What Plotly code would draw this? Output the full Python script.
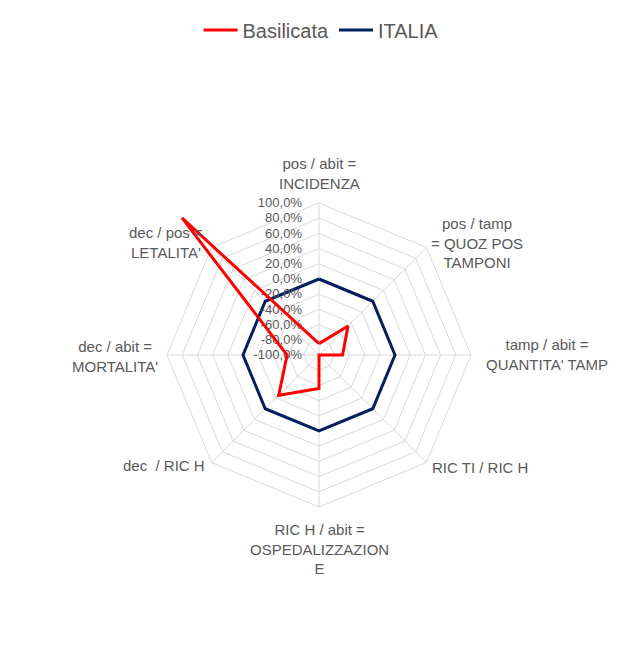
import plotly.graph_objects as go

# Indicator axes of the radar (clockwise from the top)
categories = [
    "pos / abit =<br>INCIDENZA",
    "pos / tamp<br>= QUOZ POS<br>TAMPONI",
    "tamp / abit =<br>QUANTITA' TAMP",
    "RIC TI / RIC H",
    "RIC H / abit =<br>OSPEDALIZZAZION<br>E",
    "dec  / RIC H",
    "dec / abit =<br>MORTALITA'",
    "dec / pos =<br>LETALITA'",
]

# Relative deviation from the national value, in percent
basilicata = [-85, -46, -69, -100, -56, -25, -58, 155]
italia = [0, 0, 0, 0, 0, 0, 0, 0]

# Radial tick values and their Italian-format labels
tick_vals = [-100, -80, -60, -40, -20, 0, 20, 40, 60, 80, 100]
tick_text = ["-100,0%", "-80,0%", "-60,0%", "-40,0%", "-20,0%", "0,0%",
             "20,0%", "40,0%", "60,0%", "80,0%", "100,0%"]

R_MIN, R_MAX, R_OUT = -100, 100, 160   # grid range and the wider overlay range
PX_PER_UNIT = 0.76                     # radial scale shared by both polar layers
CX, CY = 319, 355                      # common centre (pixels from top-left)
W, H = 618, 658

# Category label block centres, as offsets from the radar centre (pixels)
label_offsets = [(0, -181), (158, -112), (228, -1), (161, 112),
                 (0, 194), (-155, 110), (-204, 2), (-153, -112)]


def domain(r_max):
    rad = (r_max - R_MIN) * PX_PER_UNIT
    return dict(x=[(CX - rad) / W, (CX + rad) / W],
                y=[(H - CY - rad) / H, (H - CY + rad) / H])


def closed(seq):
    return list(seq) + [seq[0]]


fig = go.Figure()
fig.add_trace(go.Scatterpolar(
    r=closed(basilicata), theta=closed(categories), name="Basilicata",
    mode="lines", line=dict(color="#FF0000", width=3), subplot="polar2",
))
fig.add_trace(go.Scatterpolar(
    r=closed(italia), theta=closed(categories), name="ITALIA",
    mode="lines", line=dict(color="#002060", width=3), subplot="polar",
))

# Category names around the outer ring
for text, (dx, dy) in zip(categories, label_offsets):
    fig.add_annotation(
        text=text, xref="paper", yref="paper",
        x=(CX + dx) / W, y=1 - (CY + dy) / H,
        xanchor="center", yanchor="middle", align="center", showarrow=False,
        font=dict(size=15, color="#595959"),
    )

hidden_angular = dict(direction="clockwise", rotation=90, categoryorder="array",
                      categoryarray=categories, showline=False, showgrid=False,
                      showticklabels=False, ticks="")

fig.update_layout(
    width=W, height=H,
    margin=dict(l=0, r=0, t=0, b=0),
    paper_bgcolor="white",
    font=dict(family="Liberation Sans", color="#595959"),
    showlegend=True,
    legend=dict(orientation="h", x=0.5 + 12 / W, xanchor="center", y=1 - 30 / H,
                yanchor="middle", font=dict(size=20, color="#595959"), itemwidth=34),
    polar=dict(
        domain=domain(R_MAX),
        gridshape="linear",
        bgcolor="white",
        angularaxis=dict(direction="clockwise", rotation=90,
                         showline=True, linecolor="#D9D9D9", linewidth=1,
                         gridcolor="#D9D9D9", gridwidth=1,
                         showticklabels=False, ticks=""),
        radialaxis=dict(range=[R_MIN, R_MAX], angle=90, side="counterclockwise",
                        tickvals=tick_vals, ticktext=tick_text, tickangle=90,
                        showline=False, ticks="outside", ticklen=12,
                        tickcolor="rgba(0,0,0,0)",
                        gridcolor="#D9D9D9", gridwidth=1,
                        tickfont=dict(size=13, color="#595959")),
    ),
    polar2=dict(
        domain=domain(R_OUT),
        gridshape="linear",
        bgcolor="rgba(0,0,0,0)",
        angularaxis=hidden_angular,
        radialaxis=dict(range=[R_MIN, R_OUT], visible=False, showgrid=False),
    ),
)

fig.write_html("out.html")
